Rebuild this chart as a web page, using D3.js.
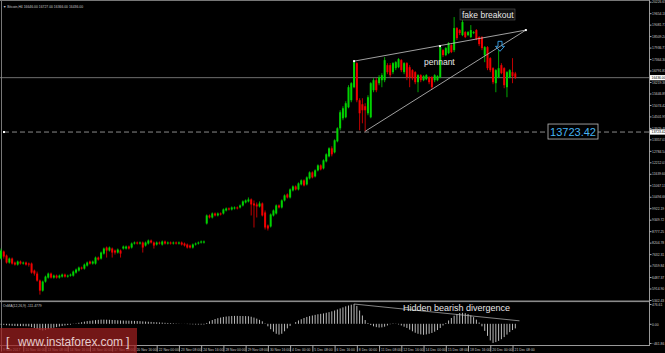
<!DOCTYPE html>
<html>
<head>
<meta charset="utf-8">
<style>
body { margin: 0; background: #000; }
svg { display: block; }
.small { font-family: "Liberation Sans", Arial, sans-serif; font-size: 3.4px; fill: #c8c8c8; }
.note { font-family: "Liberation Sans", Arial, sans-serif; fill: #e8e8e8; }
</style>
<script src="https://cdn.jsdelivr.net/npm/d3@7/dist/d3.min.js"></script>
</head>
<body>
<div id="chart"></div>
<script>
// Bitcoin H4, 8 Nov - 21 Dec 2017 (weekday bars only)
var opens = [7410,7760,7560,7210,7410,7210,7110,7260,7160,7210,
7160,7160,6810,6660,6310,5810,6260,6460,6660,6460,
6560,6460,6510,6610,6510,6560,6560,6710,6810,6960,
6910,7060,7260,7160,7160,7460,7410,7660,7960,7810,
7910,7810,7710,7810,7910,7910,8010,7960,8160,8210,
8160,8210,8060,8160,8310,8210,8110,8210,8110,8260,
8160,8210,8160,8210,8160,8210,8160,8110,8060,7960,
8110,8160,8210,8210,9160,9560,9460,9660,9560,9660,
9660,9810,9910,9860,9910,9960,9960,10060,10210,10260,
10360,10160,10110,10010,10160,9710,9060,9010,9560,9660,
10060,9960,10310,10610,10460,10810,11010,10860,11110,11310,
11110,11410,11710,11510,11810,12060,11910,12260,12510,12910,
12710,13260,13910,14410,14460,14960,15310,15960,17160,15310,
15110,15010,14660,14460,15810,16310,16160,16310,16310,17060,
17060,16710,16910,16960,17310,16710,17160,16960,16810,16710,
16210,16560,16310,16360,16460,16460,16310,16310,16460,17810,
17560,17660,18060,17810,18910,18810,18560,18710,18560,18460,
18660,18810,18460,18460,17560,17960,17410,16910,16160,16460,
17060,16910,15960,16460,16710,16646];
var highs = [7910,7810,7610,7460,7460,7260,7310,7310,7260,7260,
7210,7210,6860,6760,6360,6310,6560,6710,6710,6610,
6610,6610,6660,6660,6610,6660,6810,6910,7010,7010,
7160,7260,7310,7310,7510,7510,7760,7960,8010,8010,
7960,7860,7910,7860,8060,8060,8060,8210,8260,8260,
8260,8260,8260,8360,8360,8260,8260,8260,8310,8310,
8260,8260,8260,8260,8260,8260,8210,8160,8110,8160,
8210,8260,8310,8310,9610,9610,9710,9710,9710,9710,
9910,9960,9960,10010,10010,10010,10110,10310,10360,10460,
10410,10310,10210,10260,10210,9810,9110,9660,9860,10110,
10110,10360,10610,10660,10910,11060,11060,11210,11360,11360,
11510,11760,11760,11860,12110,12110,12360,12660,12960,13010,
13360,13960,14810,15010,15260,16060,16210,17260,17210,15410,
15410,15160,15560,16210,16410,16410,16560,16660,17460,17160,
17160,17210,17260,17410,17360,17210,17210,17060,16860,16760,
16610,16610,16560,16610,16510,16510,16610,16560,18010,17860,
17960,18210,18110,19460,18960,18860,19310,18760,18760,19060,
18760,18860,18510,18510,18010,18010,17460,16960,16860,17810,
17160,16960,16760,16860,17410,16727];
var lows = [7360,7410,7160,7160,7110,7060,7060,7110,7110,7060,
7010,6660,6560,6260,5610,5760,6210,6410,6410,6410,
6410,6410,6460,6460,6460,6510,6510,6660,6760,6860,
6860,7010,7110,7110,7110,7310,7360,7610,7460,7760,
7460,7610,7660,7460,7860,7860,7860,7910,8110,8110,
8110,7710,8010,8110,8160,7910,8060,8110,8060,8110,
8110,8110,8110,8110,8110,8060,8010,7910,7910,7910,
8060,8110,8160,8160,9110,9410,9410,9510,9510,9560,
9610,9760,9810,9810,9860,9860,9910,10010,10160,10210,
9560,8960,9460,9960,9510,8860,8810,8960,9510,9610,
9910,9910,10260,10410,10410,10760,10810,10810,11060,11010,
11060,11360,11410,11460,11760,11810,11860,12210,12460,12510,
12660,13210,13810,14310,14410,14910,15210,15910,15210,13810,
14160,13760,14560,14410,15710,15710,16060,15960,16210,16610,
16460,16610,16810,16910,16710,16610,16310,15960,16310,16110,
15710,16210,16260,16310,16110,15860,16210,16260,16410,17460,
17510,17610,17660,17710,18310,18560,18510,18410,18510,18410,
18610,18310,18010,17810,17210,16810,16710,16110,15710,16410,
16610,15910,15460,16410,16160,16366];
var closes = [7810,7510,7210,7410,7160,7110,7260,7160,7210,7110,
7110,6710,6660,6310,5810,6260,6510,6660,6460,6560,
6460,6560,6610,6510,6560,6610,6760,6860,6960,6910,
7110,7210,7160,7260,7460,7360,7710,7910,7810,7960,
7710,7710,7860,7660,8010,8010,7910,8160,8210,8160,
8210,7960,8210,8310,8210,8060,8210,8160,8260,8160,
8210,8160,8210,8160,8210,8110,8060,7960,7960,8110,
8160,8210,8260,8260,9560,9460,9660,9560,9660,9610,
9860,9910,9860,9960,9960,9910,10060,10260,10310,10360,
10110,10060,10010,10160,9560,8960,8910,9610,9810,10060,
9960,10310,10560,10460,10860,11010,10860,11160,11310,11060,
11460,11710,11460,11810,12060,11860,12310,12610,12910,12610,
13310,13910,14710,14910,15160,15960,16160,17210,15310,14660,
14810,14810,15460,16160,16310,15810,16460,16560,17310,16710,
16560,17160,17210,17360,16810,17160,16460,16460,16410,16210,
16560,16310,16510,16560,16210,15960,16560,16510,17960,17560,
17910,18160,17710,18910,18410,18660,19210,18460,18710,18810,
18710,18360,18110,17910,17960,16910,16810,16210,16810,16910,
16660,16060,16710,16810,16510,16436];
// OsMA(12,26,9) histogram
var osma = [-20,-25,-35,-40,-48,-52,-55,-55,-56,-58,-60,
-80,-100,-125,-150,-160,-150,
-130,-110,-95,-80,-65,-52,-40,-30,-20,
-5,10,25,38,52,65,72,80,88,95,100,100,98,96,92,
88,84,80,78,76,75,72,70,68,64,58,54,50,46,40,
36,32,28,24,20,16,12,8,5,2,-2,-6,-10,-14,-16,-18,-18,-16,
20,60,90,115,135,150,165,175,182,188,190,190,188,186,185,182,
170,150,125,95,60,10,-60,-130,-190,-240,-260,-240,-180,-110,
-50,0,40,80,110,140,165,185,200,215,230,240,250,265,280,300,320,345,370,395,420,440,460,476,
430,320,200,90,20,-30,-60,-80,-90,-85,-70,-40,-10,10,5,
-15,-40,-70,-100,-140,-180,-215,-240,-255,-264,-255,-240,-220,-190,-150,-100,
-40,20,80,140,195,235,260,265,255,235,205,160,100,30,-60,-170,-290,-400,-461,-440,-410,-370,-320,-260,-200,-150,-111];

var priceTicks = [20226.65,19654.18,19081.71,18509.24,17936.77,17364.30,16791.83,16219.36,15646.89,
15074.42,14501.95,13929.48,13357.01,12784.54,12212.07,11639.60,11067.13,10494.66,9922.19,
9349.72,8777.25,8204.78,7632.31,7059.84,6487.37,5914.90,5342.43];
var osmaTicks = [476.61, 0, -461.86];
var timeLabels = ["9 Nov 2017","10 Nov 00:00","13 Nov 08:00","14 Nov 16:00","16 Nov 00:00","17 Nov 08:00",
"20 Nov 16:00","22 Nov 00:00","23 Nov 08:00","24 Nov 16:00","28 Nov 00:00","29 Nov 08:00",
"30 Nov 16:00","4 Dec 00:00","5 Dec 08:00","6 Dec 16:00","8 Dec 00:00","11 Dec 08:00",
"12 Dec 16:00","14 Dec 00:00","15 Dec 08:00","18 Dec 16:00","20 Dec 00:00","21 Dec 08:00"];

var lastPrice = 16436.00;
var levelPrice = 13723.42;
var pennantUpper = [[127, 17260], [157.9, 18010], [188.8, 18810]];
var pennantLower = [[131, 13760], [188.8, 18810]];
var divergence = [[127, 476], [186.5, 72]];

var width = 665, height = 353;
var svg = d3.select("#chart").append("svg")
	.attr("width", width).attr("height", height)
	.style("background", "#000");

var x = d3.scaleLinear().domain([0, 185]).range([1, 515.3]);
var y = d3.scaleLinear().domain([5342.43, 20226.65]).range([300, 1.7]);
var yo = d3.scaleLinear().domain([-461.86, 476.61]).range([343, 304]);
var axisX = 649;

// frame
svg.append("line").attr("x1", 0).attr("x2", axisX).attr("y1", 0.5).attr("y2", 0.5).attr("stroke", "#777");
svg.append("line").attr("x1", 1.5).attr("x2", 1.5).attr("y1", 0).attr("y2", 345).attr("stroke", "#777");
svg.append("line").attr("x1", axisX + 0.5).attr("x2", axisX + 0.5).attr("y1", 0).attr("y2", 345).attr("stroke", "#999");
svg.append("rect").attr("x", 0).attr("y", 300.5).attr("width", axisX).attr("height", 1.6).attr("fill", "#8a8a8a");
svg.append("line").attr("x1", 0).attr("x2", axisX + 1).attr("y1", 345.5).attr("y2", 345.5).attr("stroke", "#999");

// price lines
svg.append("line").attr("x1", 0).attr("x2", axisX).attr("y1", y(lastPrice)).attr("y2", y(lastPrice))
	.attr("stroke", "#8c8c8c").attr("stroke-width", 0.8);
svg.append("line").attr("x1", 4).attr("x2", axisX).attr("y1", y(levelPrice)).attr("y2", y(levelPrice))
	.attr("stroke", "#9a9a9a").attr("stroke-width", 0.9).attr("stroke-dasharray", "5,3");
svg.append("rect").attr("x", 3).attr("y", y(levelPrice) - 1).attr("width", 2).attr("height", 2).attr("fill", "#fff");

// candles
var idx = d3.range(closes.length);
var up = function(i) { return closes[i] >= opens[i]; };
var col = function(i) { return up(i) ? "#00d200" : "#f00000"; };
svg.append("g").selectAll("line").data(idx).enter().append("line")
	.attr("x1", function(i) { return x(i); })
	.attr("x2", function(i) { return x(i); })
	.attr("y1", function(i) { return y(highs[i]); })
	.attr("y2", function(i) { return y(lows[i]); })
	.attr("stroke", col).attr("stroke-width", 0.8);
svg.append("g").selectAll("rect").data(idx).enter().append("rect")
	.attr("x", function(i) { return x(i) - 1; })
	.attr("width", 2)
	.attr("y", function(i) { return y(Math.max(opens[i], closes[i])); })
	.attr("height", function(i) { return Math.max(1, Math.abs(y(opens[i]) - y(closes[i]))); })
	.attr("fill", col);

// pennant
var line = d3.line().x(function(d) { return x(d[0]); }).y(function(d) { return y(d[1]); });
svg.append("path").datum([pennantUpper[0], pennantUpper[2]]).attr("d", line)
	.attr("stroke", "#c8c8c8").attr("stroke-width", 0.8).attr("fill", "none");
svg.append("path").datum(pennantLower).attr("d", line)
	.attr("stroke", "#c8c8c8").attr("stroke-width", 0.8).attr("fill", "none");
svg.append("g").selectAll("rect").data(pennantUpper).enter().append("rect")
	.attr("x", function(d) { return x(d[0]) - 1; })
	.attr("y", function(d) { return y(d[1]) - 1; })
	.attr("width", 2).attr("height", 2).attr("fill", "#fff");

// annotations
svg.append("rect").attr("x", 460).attr("y", 9).attr("width", 55).attr("height", 11)
	.attr("fill", "#111").attr("stroke", "#555").attr("stroke-width", 0.6);
svg.append("text").attr("class", "note").attr("x", 462).attr("y", 17.5)
	.attr("font-size", 8.5).text("fake breakout");
svg.append("text").attr("class", "note").attr("x", 424).attr("y", 65)
	.attr("font-size", 8.5).attr("fill", "#d8d8d8").text("pennant");

// blue down arrow
var ax = x(179.5), ay = y(18250);
svg.append("path")
	.attr("d", "M" + (ax - 2) + "," + ay + "h4v5h2.5l-4.5,5l-4.5,-5h2.5z")
	.attr("fill", "none").attr("stroke", "#3aa6ee").attr("stroke-width", 0.9);

// level label
svg.append("rect").attr("x", 548).attr("y", y(levelPrice) - 8).attr("width", 50).attr("height", 15)
	.attr("fill", "#000").attr("stroke", "#bdbdbd").attr("stroke-width", 0.8);
svg.append("text").attr("x", 573).attr("y", y(levelPrice) + 4).attr("text-anchor", "middle")
	.attr("font-family", "Liberation Sans, Arial, sans-serif").attr("font-size", 11)
	.attr("fill", "#46b4f2").text("13723.42");

// price axis
var yAxis = d3.axisRight(y).tickValues(priceTicks).tickSize(2).tickFormat(d3.format(".2f"));
var ga = svg.append("g").attr("transform", "translate(" + (axisX + 0.5) + ",0)").call(yAxis);
ga.select(".domain").remove();
ga.selectAll("line").attr("stroke", "#aaa");
ga.selectAll("text").attr("class", "small").attr("x", 2.5).attr("dy", "0.35em");

// price boxes on the axis
[lastPrice, levelPrice].forEach(function(p) {
	svg.append("rect").attr("x", axisX + 1).attr("y", y(p) - 2.6).attr("width", 16).attr("height", 5.2).attr("fill", "#fff");
	svg.append("text").attr("class", "small").attr("x", axisX + 2.5).attr("y", y(p) + 1.2)
		.style("fill", "#000").text(d3.format(".2f")(p));
});

// OsMA histogram
svg.append("g").selectAll("line").data(idx).enter().append("line")
	.attr("x1", function(i) { return x(i); })
	.attr("x2", function(i) { return x(i); })
	.attr("y1", yo(0))
	.attr("y2", function(i) { return yo(osma[i]); })
	.attr("stroke", "#cfcfcf").attr("stroke-width", 0.9);
var oline = d3.line().x(function(d) { return x(d[0]); }).y(function(d) { return yo(d[1]); });
svg.append("path").datum(divergence).attr("d", oline)
	.attr("stroke", "#bbb").attr("stroke-width", 0.7).attr("fill", "none");
svg.append("text").attr("class", "note").attr("x", 403).attr("y", 311)
	.attr("font-size", 9).text("Hidden bearish divergence");

var oAxis = d3.axisRight(yo).tickValues(osmaTicks).tickSize(2).tickFormat(d3.format(".2f"));
var go = svg.append("g").attr("transform", "translate(" + (axisX + 0.5) + ",0)").call(oAxis);
go.select(".domain").remove();
go.selectAll("line").attr("stroke", "#aaa");
go.selectAll("text").attr("class", "small").attr("x", 2.5).attr("dy", "0.35em");

// titles
svg.append("text").attr("class", "small").attr("x", 3).attr("y", 7.5)
	.text("\u25BC Bitcoin,H4  16646.00 16727.00 16366.00 16436.00");
svg.append("text").attr("class", "small").attr("x", 3).attr("y", 307)
	.text("OsMA(12,26,9) -111.4779");

// time axis
var xAxis = d3.axisBottom(x).tickValues(d3.range(0, 185, 8)).tickSize(6)
	.tickFormat(function(d, i) { return timeLabels[i]; });
var gx = svg.append("g").attr("transform", "translate(0,345.5)").call(xAxis);
gx.select(".domain").remove();
gx.selectAll("line").attr("stroke", "#aaa");
gx.selectAll("text").attr("class", "small").attr("text-anchor", "start").attr("x", 1.5).attr("y", 3).attr("dy", "0.71em");

// watermark
svg.append("rect").attr("x", 0).attr("y", 328).attr("width", 137).attr("height", 25)
	.attr("fill", "#a02020").attr("opacity", 0.72);
svg.append("text").attr("x", 6).attr("y", 346).attr("font-family", "Liberation Sans, Arial, sans-serif")
	.attr("font-size", 12.5).attr("fill", "#e6cccc").text("[");
svg.append("text").attr("x", 18).attr("y", 346).attr("font-family", "Liberation Sans, Arial, sans-serif")
	.attr("font-size", 12).attr("fill", "#e6cccc").attr("textLength", 105).text("www.instaforex.com");
svg.append("text").attr("x", 126).attr("y", 346).attr("font-family", "Liberation Sans, Arial, sans-serif")
	.attr("font-size", 12.5).attr("fill", "#e6cccc").text("]");
</script>
</body>
</html>
